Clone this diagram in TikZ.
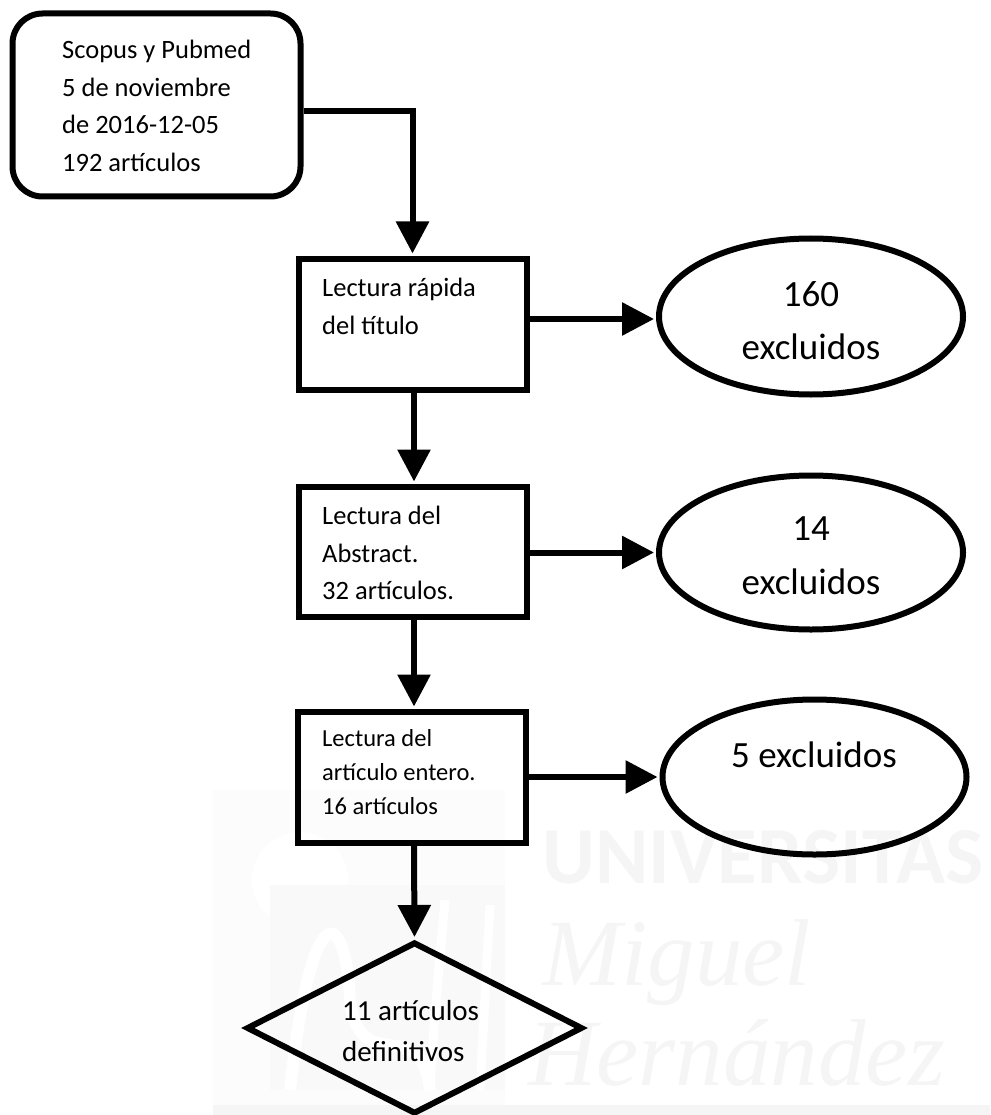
\documentclass[tikz,border=0pt]{standalone}
\usepackage{fontspec}
\setmainfont{Carlito}
\usetikzlibrary{arrows.meta,shapes.geometric}
\definecolor{wm}{HTML}{F5F5F5}
\definecolor{wmblock}{HTML}{F9F9F9}
\definecolor{wmlight}{HTML}{FCFCFC}
\tikzset{
  x=1pt,y=-1pt,
  shapeline/.style={draw=black,line width=6pt,inner sep=0pt,fill=none},
  stepbox/.style={shapeline,rectangle,minimum width=228pt,minimum height=130pt},
  outbox/.style={shapeline,ellipse,minimum width=304pt,minimum height=155pt},
  link/.style={line width=6pt,-{Triangle[length=32pt,width=32pt]},shorten >=2pt},
  boxtext/.style={anchor=north west,inner sep=0pt,align=left},
  roundtext/.style={inner sep=0pt,align=center},
  watermark/.style={text=wm,inner sep=0pt,anchor=base west}
}
\begin{document}
\begin{tikzpicture}
\useasboundingbox (0,0) rectangle (990,1115);
% watermark
\fill[wmlight] (213,790) rectangle (505,1105);
\fill[white] (300,880) circle (48);
\fill[wmblock] (270,885) rectangle (505,1090);
\fill[wm] (213,1105) rectangle (990,1115);
\draw[white,line width=12pt] (290,1090) .. controls (310,900) and (345,900) .. (350,1000) .. controls (360,1080) and (420,1010) .. (430,1090);
\draw[white,line width=9pt] (430,1090) .. controls (435,1000) and (440,960) .. (445,900);
\draw[white,line width=9pt] (480,1090) -- (490,905);
\node[watermark,font=\bfseries\fontsize{81}{81}\selectfont] (w1) at (542,883) {UNIVERSITAS};
\node[watermark,font=\itshape\fontspec{Liberation Serif}\fontsize{95}{95}\selectfont] (w2) at (542,985) {Miguel};
\node[watermark,font=\itshape\fontspec{Liberation Serif}\fontsize{95}{95}\selectfont] (w3) at (528,1085) {Hernández};
% shapes
\node[shapeline,rectangle,rounded corners=30pt,minimum width=288pt,minimum height=183pt] (src) at (156.5,105) {};
\node[stepbox,minimum height=131pt] (b1) at (412.5,324) {};
\node[stepbox,minimum height=130pt] (b2) at (412.5,551.5) {};
\node[stepbox,minimum height=131pt] (b3) at (412,777) {};
\node[outbox,minimum height=156pt] (e1) at (811,316.5) {};
\node[outbox,minimum height=154pt] (e2) at (811,552.5) {};
\node[outbox,minimum height=155pt] (e3) at (814.5,777) {};
\node[shapeline,diamond,aspect=1.95,minimum width=336pt,minimum height=172pt] (d) at (414.5,1028) {};
% texts
\node[boxtext,font=\fontsize{26.5}{37.5}\selectfont] (t0) at (62,40) {Scopus y Pubmed\\5 de noviembre\\de 2016-12-05\\192 artículos};
\node[boxtext,font=\fontsize{26.5}{38}\selectfont] (t1) at (322,278) {Lectura rápida\\del título};
\node[boxtext,font=\fontsize{26.5}{37.5}\selectfont] (t2) at (322,506) {Lectura del\\Abstract.\\32 artículos.};
\node[boxtext,font=\fontsize{24.5}{34}\selectfont] (t3) at (322,729) {Lectura del\\artículo entero.\\16 artículos};
\node[roundtext,font=\fontsize{37}{53}\selectfont] (t4) at (811,321) {160\\excluidos};
\node[roundtext,font=\fontsize{37}{54}\selectfont] (t5) at (811,556) {14\\excluidos};
\node[roundtext,font=\fontsize{37}{54}\selectfont] (t6) at (814,755) {5 excluidos};
\node[boxtext,font=\fontsize{29}{41}\selectfont] (t7) at (342,1000) {11 artículos\\definitivos};
% connectors
\draw[link] ([yshift=-6pt]src.east) -| (b1.north);
\draw[link] ([xshift=1.5pt]b1.south) -- ([xshift=1.5pt]b2.north);
\draw[link] ([xshift=1.5pt]b2.south) -- ([xshift=2pt]b3.north);
\draw[link] ([xshift=2pt]b3.south) -- (d.north);
\draw[link] (b1.east |- 0,319) -- (e1.west |- 0,319);
\draw[link] (b2.east |- e2.west) -- (e2.west);
\draw[link] (b3.east) -- (e3.west);
\end{tikzpicture}
\end{document}
